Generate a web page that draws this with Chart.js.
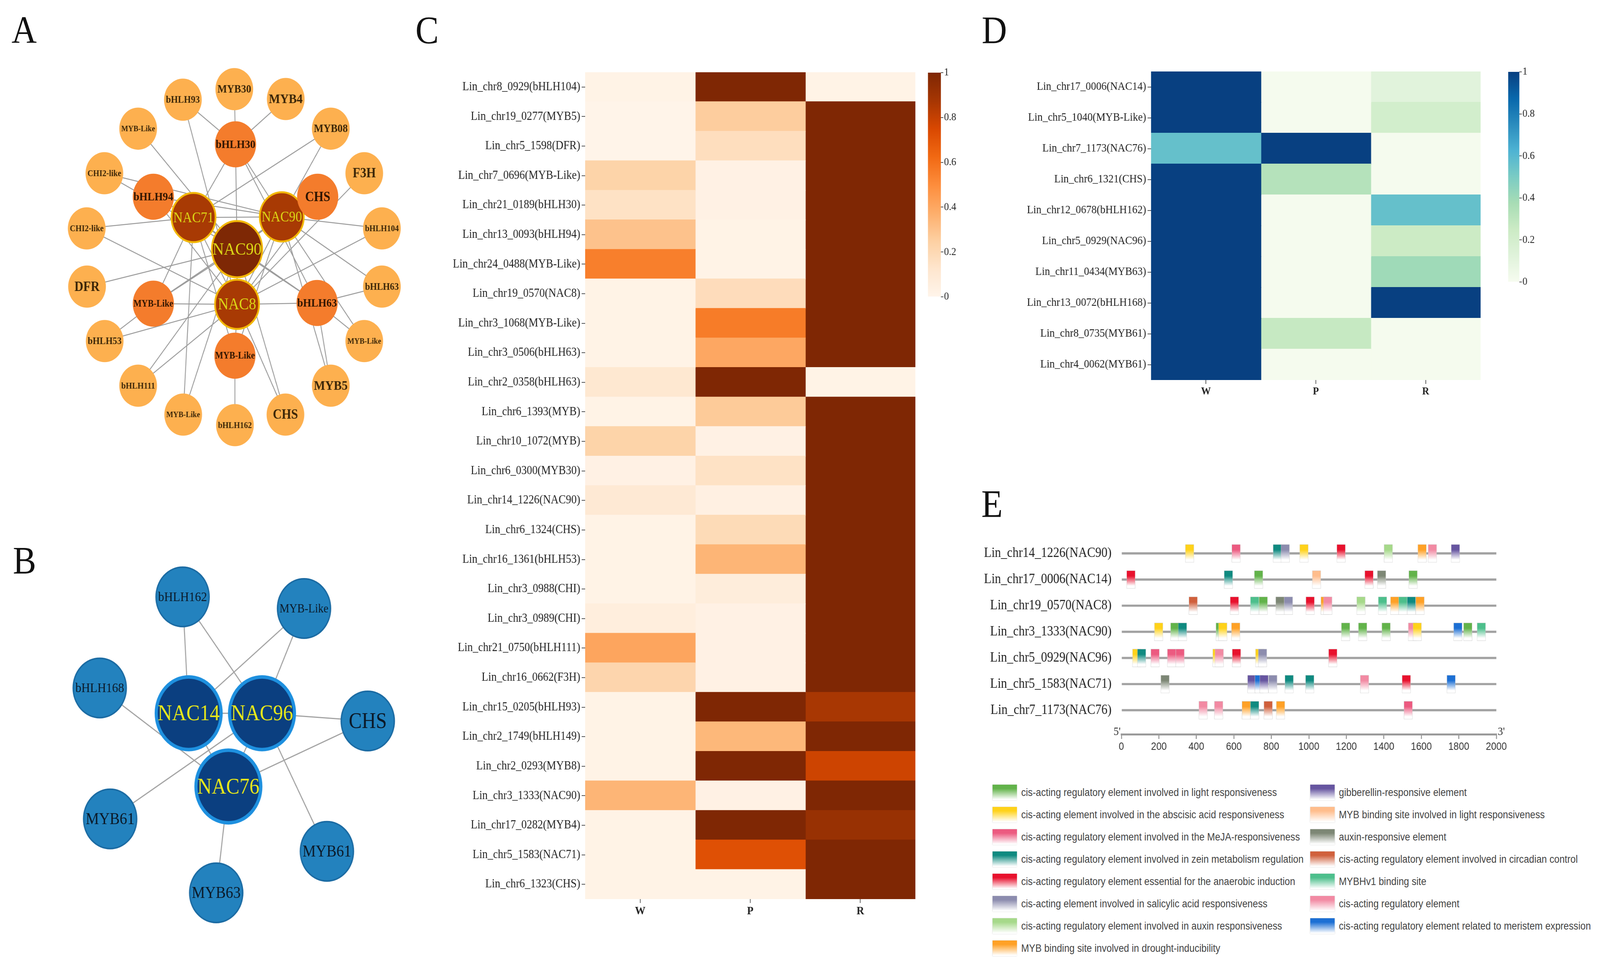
<!DOCTYPE html>
<html><head><meta charset="utf-8">
<script src="https://cdn.jsdelivr.net/npm/chart.js@4.4.1/dist/chart.umd.min.js"></script>
<style>
html,body{margin:0;padding:0;background:#fff;overflow:hidden;}
#root{position:absolute;left:0;top:0;width:4583px;height:2481px;transform-origin:0 0;background:#fff;}
.letter{position:absolute;font:100px/1 'Liberation Serif',serif;color:#111;z-index:5;}
.leg{position:absolute;height:40px;display:flex;align-items:center;font:27px 'Liberation Sans',sans-serif;color:#444;white-space:nowrap;z-index:5;}
.sw{width:70px;height:40px;margin-right:12px;box-shadow:0 0 2px #bbb;flex:none;}
</style></head><body>
<div id="root"></div>
<script>
// ================= DATA =================
// ---- Panel A network (layout units, origin = network centre, y up) ----
const aCenterLabels = ['NAC90'];
const aCenterX = [8];
const aCenterY = [23];
const aHubLabels = ['NAC71', 'NAC90', 'NAC8'];
const aHubX = [-135, 155, 8];
const aHubY = [116, 118, -139];
const aMidLabels = ['bHLH30', 'CHS', 'bHLH63', 'MYB-Like', 'MYB-Like', 'bHLH94'];
const aMidX = [3, 273, 271, 1, -267, -267];
const aMidY = [331, 177, -135, -290, -137, 177];
const aOuterLabels = ['MYB30', 'MYB4', 'MYB08', 'F3H', 'bHLH104', 'bHLH63', 'MYB-Like', 'MYB5', 'CHS',
  'bHLH162', 'MYB-Like', 'bHLH111', 'bHLH53', 'DFR', 'CHI2-like', 'CHI2-like', 'MYB-Like', 'bHLH93'];
const aOuterX = [-1, 168, 316, 426, 484, 484, 426, 316, 167, 1, -169, -317, -427, -485, -486, -428, -317, -170];
const aOuterY = [493, 464, 377, 246, 84, -87, -247, -378, -463, -494, -463, -378, -247, -87, 84, 246, 377, 462];
const aEdges = [
  ['o0','m0'],['o1','m0'],['o17','m0'],['o17','h2'],['o16','c0'],['o2','h0'],['o2','h1'],
  ['m0','c0'],['m0','h0'],['m0','h1'],['m0','m2'],
  ['o15','h1'],['o15','c0'],['m5','h1'],['m5','h2'],['m5','h0'],
  ['m1','h2'],['m1','h1'],['o3','h2'],
  ['o14','h0'],['o14','h2'],['o4','h1'],['o4','h2'],['o13','c0'],
  ['o5','m2'],['o5','h1'],['m4','h2'],['m4','c0'],['m4','h0'],['m4','h1'],
  ['o12','m4'],['o12','h2'],['o11','c0'],['o11','h2'],['o10','h0'],['o10','c0'],
  ['o8','h2'],['o8','c0'],['o9','m3'],['o7','m2'],['o7','h1'],['o6','m2'],['o6','h1'],
  ['c0','h0'],['c0','h1'],['c0','h2'],['h0','h2'],['h1','h2'],['h0','h1'],
  ['c0','m2'],['h0','m2'],['h2','m2'],['m3','h2'],['m3','h1'],['h0','m3']
];

// ---- Panel B network ----
const bHubLabels = ['NAC14', 'NAC96', 'NAC76'];
const bHubX = [-132, 121, 5];
const bHubY = [89, 89, -137];
const bOuterLabels = ['bHLH162', 'MYB-Like', 'bHLH168', 'CHS', 'MYB61', 'MYB61', 'MYB63'];
const bOuterX = [-153, 266, -439, 486, -403, 345, -37];
const bOuterY = [448, 412, 167, 65, -237, -337, -465];
const bEdges = [['o0','h0'],['o0','h1'],['o1','h0'],['o1','h1'],['o2','h2'],['h0','h1'],['h1','o3'],
  ['o3','h2'],['h0','h2'],['h1','h2'],['o4','h1'],['o5','h1'],['o6','h2']];

// ---- Panel C heatmap ----
const cRows = ['Lin_chr8_0929(bHLH104)','Lin_chr19_0277(MYB5)','Lin_chr5_1598(DFR)','Lin_chr7_0696(MYB-Like)',
  'Lin_chr21_0189(bHLH30)','Lin_chr13_0093(bHLH94)','Lin_chr24_0488(MYB-Like)','Lin_chr19_0570(NAC8)',
  'Lin_chr3_1068(MYB-Like)','Lin_chr3_0506(bHLH63)','Lin_chr2_0358(bHLH63)','Lin_chr6_1393(MYB)',
  'Lin_chr10_1072(MYB)','Lin_chr6_0300(MYB30)','Lin_chr14_1226(NAC90)','Lin_chr6_1324(CHS)',
  'Lin_chr16_1361(bHLH53)','Lin_chr3_0988(CHI)','Lin_chr3_0989(CHI)','Lin_chr21_0750(bHLH111)',
  'Lin_chr16_0662(F3H)','Lin_chr15_0205(bHLH93)','Lin_chr2_1749(bHLH149)','Lin_chr2_0293(MYB8)',
  'Lin_chr3_1333(NAC90)','Lin_chr17_0282(MYB4)','Lin_chr5_1583(NAC71)','Lin_chr6_1323(CHS)'];
const cCols = ['W', 'P', 'R'];
const cW = [0.02,0.01,0.01,0.23,0.15,0.30,0.55,0.02,0.02,0.02,0.11,0.02,0.23,0.03,0.10,0.02,0.02,0.02,0.06,0.41,0.22,0.02,0.02,0.02,0.35,0.02,0.02,0.02];
const cP = [1,0.26,0.17,0.03,0.03,0.02,0.02,0.18,0.56,0.40,1,0.27,0.03,0.15,0.04,0.19,0.35,0.07,0.03,0.03,0.03,1,0.34,1,0.03,1,0.72,0.02];
const cR = [0.02,1,1,1,1,1,1,1,1,1,0.02,1,1,1,1,1,1,1,1,1,1,0.87,1,0.78,1,0.92,1,1];
const colorbarTicks = [0, 0.2, 0.4, 0.6, 0.8, 1];

// ---- Panel D heatmap ----
const dRows = ['Lin_chr17_0006(NAC14)','Lin_chr5_1040(MYB-Like)','Lin_chr7_1173(NAC76)','Lin_chr6_1321(CHS)',
  'Lin_chr12_0678(bHLH162)','Lin_chr5_0929(NAC96)','Lin_chr11_0434(MYB63)','Lin_chr13_0072(bHLH168)',
  'Lin_chr8_0735(MYB61)','Lin_chr4_0062(MYB61)'];
const dCols = ['W', 'P', 'R'];
const dW = [1,1,0.56,1,1,1,1,1,1,1];
const dP = [0.01,0.01,1,0.33,0.01,0.01,0.01,0.01,0.27,0.01];
const dR = [0.12,0.21,0.01,0.01,0.56,0.25,0.40,1,0.01,0.01];

// ---- Panel E promoter elements ----
const eGenes = ['Lin_chr14_1226(NAC90)','Lin_chr17_0006(NAC14)','Lin_chr19_0570(NAC8)','Lin_chr3_1333(NAC90)',
  'Lin_chr5_0929(NAC96)','Lin_chr5_1583(NAC71)','Lin_chr7_1173(NAC76)'];
const promoterLength = 2000;
const siteWidth = 46;
const siteStarts = [
  [341, 589, 809, 851, 951, 1149, 1401, 1581, 1636, 1759],
  [28, 548, 709, 1018, 1298, 1365, 1533],
  [360, 580, 688, 734, 823, 868, 984, 1064, 1078, 1255, 1370, 1435, 1479, 1524, 1570],
  [176, 262, 303, 504, 518, 587, 1173, 1264, 1389, 1530, 1555, 1772, 1825, 1897],
  [59, 85, 157, 245, 290, 487, 499, 591, 715, 730, 1105],
  [210, 673, 712, 738, 785, 872, 982, 1274, 1497, 1736],
  [413, 496, 643, 688, 760, 826, 1507]
];
const siteTypes = [
  [1, 2, 3, 5, 1, 4, 6, 7, 13, 8],
  [4, 3, 0, 9, 4, 10, 0],
  [11, 4, 12, 0, 10, 5, 4, 7, 13, 6, 12, 7, 12, 3, 7],
  [1, 0, 3, 0, 1, 7, 0, 0, 0, 13, 1, 14, 0, 12],
  [1, 3, 2, 2, 2, 1, 13, 4, 1, 5, 4],
  [10, 8, 14, 8, 5, 3, 3, 13, 4, 14],
  [13, 13, 7, 3, 11, 7, 2]
];
const typeNames = [
  'cis-acting regulatory element involved in light responsiveness',
  'cis-acting element involved in the abscisic acid responsiveness',
  'cis-acting regulatory element involved in the MeJA-responsiveness',
  'cis-acting regulatory element involved in zein metabolism regulation',
  'cis-acting regulatory element essential for the anaerobic induction',
  'cis-acting element involved in salicylic acid responsiveness',
  'cis-acting regulatory element involved in auxin responsiveness',
  'MYB binding site involved in drought-inducibility',
  'gibberellin-responsive element',
  'MYB binding site involved in light responsiveness',
  'auxin-responsive element',
  'cis-acting regulatory element involved in circadian control',
  'MYBHv1 binding site',
  'cis-acting regulatory element',
  'cis-acting regulatory element related to meristem expression'
];
const typeColors = ['#62b34a','#ffd21a','#ec5a80','#0f8a80','#e8112d','#8c8cae','#a6d98a','#ffa126',
  '#6655a0','#ffbd8c','#7d8775','#d0603c','#4dbf8c','#f28aa3','#1c6fd4'];

// ================= HELPERS =================
const ROOT = document.getElementById('root');
const PAGE_W = 4583, PAGE_H = 2481;
const sx = Math.min(window.innerWidth / PAGE_W, 1), sy = Math.min(window.innerHeight / PAGE_H, 1);
ROOT.style.transform = `scale(${sx}, ${sy})`;
document.body.style.width = (PAGE_W * sx) + 'px';
document.body.style.height = (PAGE_H * sy) + 'px';

const SERIF = "'Liberation Serif','Times New Roman',serif";
const SANS = "'Liberation Sans',Arial,sans-serif";
Chart.defaults.font.family = SERIF;
const ORANGES = ['#fff5eb','#fee6ce','#fdd0a2','#fdae6b','#fd8d3c','#f16913','#d94801','#a63603','#7f2704'];
const GNBU = ['#f7fcf0','#e0f3db','#ccebc5','#a8ddb5','#7bccc4','#4eb3d3','#2b8cbe','#0868ac','#084081'];
function hex2rgb(h){return [parseInt(h.slice(1,3),16),parseInt(h.slice(3,5),16),parseInt(h.slice(5,7),16)];}
function cmap(stops, t){
  t = Math.max(0, Math.min(1, t));
  const p = t * (stops.length - 1), i = Math.min(stops.length - 2, Math.floor(p)), f = p - i;
  const a = hex2rgb(stops[i]), b = hex2rgb(stops[i+1]);
  return `rgb(${a.map((v,k)=>Math.round(v+(b[k]-v)*f)).join(',')})`;
}
function mk(left, top, w, h){
  const c = document.createElement('canvas');
  c.width = w; c.height = h;
  c.style.cssText = `position:absolute;left:${left}px;top:${top}px;width:${w}px;height:${h}px;`;
  ROOT.appendChild(c);
  return c;
}
const base = {responsive:false, animation:false, devicePixelRatio:Math.max(1, window.devicePixelRatio || 1), events:[],
  plugins:{legend:{display:false}, tooltip:{enabled:false}}};

// ================= NETWORK =================
const nodeLabelPlugin = {
  id:'nodeLabels',
  afterDatasetsDraw(chart){
    const ctx = chart.ctx;
    chart.data.datasets.forEach((ds, di) => {
      if (!ds.nodeLabels) return;
      const meta = chart.getDatasetMeta(di);
      meta.data.forEach((pt, j) => {
        const text = ds.nodeLabels[j];
        const wt = ds.labelBold ? 'bold ' : '';
        ctx.save();
        ctx.font = `${wt}100px ${SERIF}`;
        const w100 = ctx.measureText(text).width;
        const size = Math.min(ds.labelMax, ds.labelFit * 100 / w100);
        ctx.font = `${wt}${size}px ${SERIF}`;
        ctx.fillStyle = ds.labelColor;
        ctx.textAlign = 'center'; ctx.textBaseline = 'middle';
        ctx.fillText(text, pt.x, pt.y + size * 0.05);
        ctx.restore();
      });
    });
  }
};
function nodeSet(labels, xs, ys, r, fill, border, bw, lColor, lMax, lFit, bold){
  return {data: xs.map((x,i)=>({x, y: ys[i]})), pointRadius:r, pointBackgroundColor:fill,
    pointBorderColor:border, pointBorderWidth:bw, showLine:false, order:0, clip:false,
    nodeLabels:labels, labelColor:lColor, labelMax:lMax, labelFit:lFit, labelBold:!!bold};
}
function network(canvas, groups, edges, lookup, edgeColor, edgeWidth, range){
  const edgeSets = edges.map(([a,b]) => ({data:[lookup(a), lookup(b)], showLine:true, pointRadius:0,
    borderColor:edgeColor, borderWidth:edgeWidth, order:10, clip:false}));
  new Chart(canvas, {type:'scatter', data:{datasets:[...edgeSets, ...groups]},
    options:{...base, layout:{padding:0},
      scales:{x:{type:'linear', min:-range, max:range, display:false},
              y:{type:'linear', min:-range, max:range, display:false}}},
    plugins:[nodeLabelPlugin]});
}
// Panel A
(function(){
  const lookup = k => {
    const t = k[0], i = +k.slice(1);
    if (t === 'c') return {x:aCenterX[i], y:aCenterY[i]};
    if (t === 'h') return {x:aHubX[i], y:aHubY[i]};
    if (t === 'm') return {x:aMidX[i], y:aMidY[i]};
    return {x:aOuterX[i], y:aOuterY[i]};
  };
  network(mk(72, 58, 1200, 1200), [
    nodeSet(aOuterLabels, aOuterX, aOuterY, 54, '#fdb04f', '#fdb04f', 0, '#3b2608', 35, 97, true),
    nodeSet(aMidLabels, aMidX, aMidY, 59, '#f47c2c', '#f47c2c', 0, '#2e1400', 35, 114, true),
    nodeSet(aHubLabels, aHubX, aHubY, 63, '#a83a04', '#f2b705', 5, '#dcd816', 42, 116),
    nodeSet(aCenterLabels, aCenterX, aCenterY, 72, '#7e2805', '#f2b705', 5, '#dcd816', 48, 141)
  ], aEdges, lookup, '#9c9c9c', 2.5, 600);
})();
// Panel B
(function(){
  const lookup = k => k[0] === 'h' ? {x:bHubX[+k.slice(1)], y:bHubY[+k.slice(1)]}
                                    : {x:bOuterX[+k.slice(1)], y:bOuterY[+k.slice(1)]};
  network(mk(50, 1300, 1200, 1200), [
    nodeSet(bOuterLabels, bOuterX, bOuterY, 76, '#2382be', '#1b6ba3', 4, '#0b1826', 56, 140),
    nodeSet(bHubLabels, bHubX, bHubY, 93, '#0b3f80', '#1e90df', 9, '#e8e81a', 60, 178)
  ], bEdges, lookup, '#a3a3a3', 3, 600);
})();

// ================= HEATMAPS =================
function heatmap(canvas, rows, cols, vals, stops, g){
  const datasets = vals.map((arr, ci) => ({
    data: arr.map(() => [ci, ci + 1]),
    backgroundColor: arr.map(v => cmap(stops, v)),
    borderWidth:0, barPercentage:1, categoryPercentage:1, grouped:false, inflateAmount:1
  }));
  new Chart(canvas, {type:'bar', data:{labels:rows, datasets},
    options:{...base, indexAxis:'y',
      layout:{padding:{left:0, right:g.padR, top:g.padT, bottom:0}},
      scales:{
        y:{type:'category', offset:true, afterFit:s=>{s.width = g.yW;},
           grid:{display:true, offset:false, drawOnChartArea:false, drawTicks:true, tickLength:10, color:'#555', lineWidth:2},
           border:{display:false},
           ticks:{font:{family:SERIF, size:g.yFont}, color:'#222', padding:4, autoSkip:false}},
        x:{type:'linear', min:0, max:cols.length, offset:false,
           afterBuildTicks:s=>{s.ticks = cols.map((c,i)=>({value:i+0.5}));},
           afterFit:s=>{s.height = g.xH;},
           grid:{display:true, drawOnChartArea:false, drawTicks:true, tickLength:10, color:'#555', lineWidth:2},
           border:{display:false},
           ticks:{callback:v=>cols[Math.floor(v)], font:{family:SERIF, size:g.xFont, weight:'bold'},
                  color:'#222', padding:3, autoSkip:false, maxRotation:0}}
      }}});
}
function colorbar(canvas, stops, ticks, g){
  new Chart(canvas, {type:'bar',
    data:{labels:[''], datasets:[{data:[[ticks[0], ticks[ticks.length-1]]], barPercentage:1, categoryPercentage:1, borderWidth:0,
      backgroundColor:ctx=>{
        const ca = ctx.chart.chartArea;
        if (!ca) return stops[0];
        const gr = ctx.chart.ctx.createLinearGradient(0, ca.bottom, 0, ca.top);
        stops.forEach((c,i)=>gr.addColorStop(i/(stops.length-1), c));
        return gr;
      }}]},
    options:{...base, layout:{padding:{left:g.padL, right:0, top:g.padT, bottom:g.padB}},
      scales:{x:{display:false},
        y:{min:ticks[0], max:ticks[ticks.length-1], position:'right', afterFit:s=>{s.width = 80;},
           afterBuildTicks:s=>{s.ticks = ticks.map(v=>({value:v}));},
           ticks:{callback:v=>String(Math.round(v*10)/10), font:{family:SERIF, size:28}, color:'#222', padding:2},
           grid:{display:true, drawOnChartArea:false, drawTicks:true, tickLength:7, color:'#555', lineWidth:2},
           border:{display:false}}}}});
}
heatmap(mk(1250, 150, 1390, 2250), cRows, cCols, [cW, cP, cR], ORANGES,
  {padR:18, padT:35, yW:426, xH:98, yFont:31, xFont:30});
colorbar(mk(2640, 150, 135, 630), ORANGES, colorbarTicks, {padL:18, padT:36, padB:20});
heatmap(mk(2880, 150, 1380, 900), dRows, dCols, [dW, dP, dR], GNBU,
  {padR:19, padT:33, yW:417, xH:77, yFont:30, xFont:28});
colorbar(mk(4300, 150, 132, 600), GNBU, colorbarTicks, {padL:20, padT:34, padB:28});

// ================= PANEL E =================
(function(){
  const sites = [];
  siteStarts.forEach((row, r) => row.forEach((s, k) => sites.push({y:r, x:[s, s + siteWidth], t:siteTypes[r][k]})));
  const endsPlugin = {id:'ends', afterDraw(chart){
    const {ctx, chartArea:ca} = chart;
    ctx.save(); ctx.font = `30px ${SERIF}`; ctx.fillStyle = '#333'; ctx.textBaseline = 'middle';
    ctx.textAlign = 'right'; ctx.fillText("5'", ca.left - 2, ca.bottom - 6);
    ctx.textAlign = 'left'; ctx.fillText("3'", ca.right + 4, ca.bottom - 6);
    ctx.restore();
  }};
  new Chart(mk(2800, 1330, 1783, 620), {type:'bar',
    data:{datasets:[
      {data:sites, grouped:false, barThickness:46, order:1, borderSkipped:false, borderWidth:1,
       borderColor:'rgba(200,200,200,0.8)',
       backgroundColor:ctx=>{
         if (!ctx.raw) return '#ccc';
         const col = typeColors[ctx.raw.t];
         const ca = ctx.chart.chartArea;
         if (!ca) return col;
         const yp = ctx.chart.scales.y.getPixelForValue(ctx.raw.y);
         const gr = ctx.chart.ctx.createLinearGradient(0, yp - 23, 0, yp + 23);
         gr.addColorStop(0, col); gr.addColorStop(0.3, col); gr.addColorStop(0.85, '#ffffff');
         return gr;
       }},
      {data:eGenes.map((g,i)=>({y:i, x:[0, promoterLength]})), grouped:false, barThickness:5, order:2,
       backgroundColor:'#a2a2a2', borderWidth:0}
    ]},
    options:{...base, indexAxis:'y',
      layout:{padding:{left:0, right:297, top:29, bottom:0}},
      scales:{
        y:{type:'linear', reverse:true, min:-0.686, max:6.92, offset:false,
           afterBuildTicks:s=>{s.ticks = eGenes.map((g,i)=>({value:i}));},
           afterFit:s=>{s.width = 412;},
           ticks:{callback:v=>eGenes[v], font:{family:SERIF, size:35}, color:'#222', padding:20, autoSkip:false},
           grid:{display:false}, border:{display:false}},
        x:{type:'linear', min:0, max:promoterLength, offset:false,
           afterFit:s=>{s.height = 70;},
           ticks:{stepSize:200, callback:v=>String(v), font:{family:SANS, size:27}, color:'#333', padding:4, autoSkip:false, maxRotation:0},
           grid:{display:true, drawOnChartArea:false, drawTicks:true, tickLength:12, color:'#9a9a9a', lineWidth:3},
           border:{display:true, color:'#9a9a9a', width:5}}
      }},
    plugins:[endsPlugin]});
})();

// ================= LEGEND & LETTERS =================
typeNames.forEach((name, i) => {
  const col = i < 8 ? 0 : 1, row = i < 8 ? i : i - 8;
  const d = document.createElement('div');
  d.className = 'leg';
  d.style.left = (col ? 3753 : 2843) + 'px';
  d.style.top = (2009 + 57 * row) + 'px';
  const sw = document.createElement('div');
  sw.className = 'sw';
  sw.style.background = `linear-gradient(to bottom, ${typeColors[i]} 0%, ${typeColors[i]} 25%, #ffffff 95%)`;
  const t = document.createElement('span');
  t.textContent = name;
  d.appendChild(sw); d.appendChild(t);
  ROOT.appendChild(d);
});
[['A',33,27],['B',37,1385],['C',1190,27],['D',2812,27],['E',2811,1240]].forEach(([s,x,y])=>{
  const d = document.createElement('div');
  d.className = 'letter'; d.textContent = s;
  d.style.left = x + 'px'; d.style.top = y + 'px';
  ROOT.appendChild(d);
});
</script>
</body></html>
